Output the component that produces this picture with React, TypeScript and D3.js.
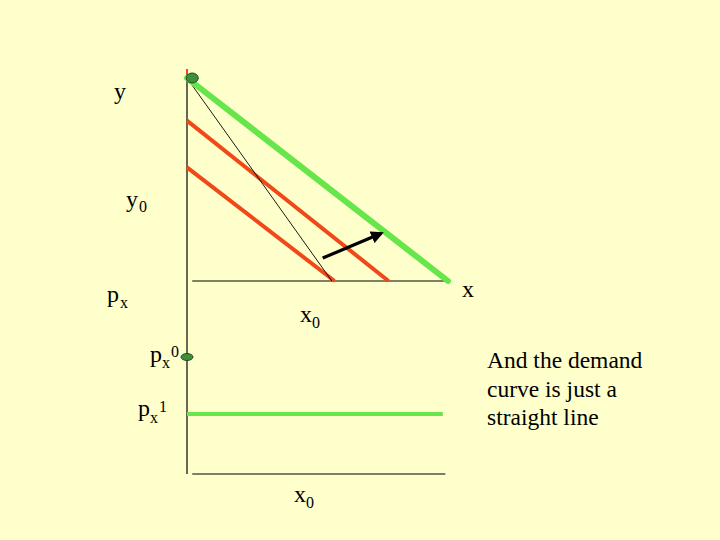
import React from 'react';
import * as d3 from 'd3';

// budget lines as [y intercept, x intercept]
const greenBudget = [10, 10];
const redBudgets = [[7.9, 7.72], [5.6, 5.65]];
const thinLine = [10, 5.55];
const shiftArrow = [[5.2, 1.13], [7.45, 2.35]];
// lower panel: price levels
const priceDot = 9.75;
const priceLine = 5;
const priceLineEnd = 9.8;
const noteLines = ["And the demand", "curve is just a", "straight line"];

const W = 720, H = 540;
const bg = "#FFFFCC";
const green = "#66E64A";
const red = "#F04818";
const serif = "'Liberation Serif', 'Times New Roman', serif";

export default function App() {
    const x = d3.scaleLinear().domain([0, 10]).range([187, 448]);
    const yTop = d3.scaleLinear().domain([0, 10]).range([281, 78]);
    const yBot = d3.scaleLinear().domain([0, 10]).range([474, 354]);
    const line = d3.line<number[]>().x(d => x(d[0])).y(d => yTop(d[1]));

    const budgetPath = (b: number[]) => line([[0, b[0]], [b[1], 0]]) || "";

    return (
        <svg width={W} height={H} style={{ position: "absolute", left: 0, top: 0 }}>
            <defs>
                <marker id="arr" viewBox="0 0 10 10" refX="8" refY="5" markerWidth="4" markerHeight="4" orient="auto">
                    <path d="M0,0 L10,5 L0,10 z" fill="#000" />
                </marker>
            </defs>
            <rect width={W} height={H} fill={bg} />

            {/* axes */}
            <line x1={x(0)} x2={x(0)} y1={70} y2={yBot(0)} stroke="#000" strokeWidth={1.2} />
            <line x1={x(0.2)} x2={x(10)} y1={yTop(0)} y2={yTop(0)} stroke="#000" strokeWidth={1.2} />
            <line x1={x(0.2)} x2={x(9.9)} y1={yBot(0)} y2={yBot(0)} stroke="#000" strokeWidth={1.2} />
            <line x1={x(0)} x2={x(0)} y1={69} y2={74} stroke={red} strokeWidth={2} />

            {/* budget lines */}
            {redBudgets.map((b, i) => (
                <path key={i} d={budgetPath(b)} stroke={red} strokeWidth={4} fill="none" />
            ))}
            <path d={budgetPath(thinLine)} stroke="#000" strokeWidth={0.9} fill="none" />
            <path d={budgetPath(greenBudget)} stroke={green} strokeWidth={6} fill="none" strokeLinecap="round" />
            <ellipse cx={x(0.2)} cy={yTop(10)} rx={6} ry={5} fill="#3E8E3A" stroke="#1F4F1F" strokeWidth={1} />
            <path d={line(shiftArrow) || ""} stroke="#000" strokeWidth={3.2} fill="none" markerEnd="url(#arr)" />

            {/* lower panel */}
            <line x1={x(0)} x2={x(priceLineEnd)} y1={yBot(priceLine)} y2={yBot(priceLine)} stroke={green} strokeWidth={4} />
            <ellipse cx={x(0)} cy={yBot(priceDot)} rx={6} ry={3.5} fill="#3E8E3A" stroke="#1F4F1F" strokeWidth={1} />

            {/* labels */}
            <g fontFamily={serif} fill="#000">
                <text x={114} y={99} fontSize={24}>y</text>
                <text x={126} y={207} fontSize={24}>y</text>
                <text x={139} y={212} fontSize={16}>0</text>

                <text x={107} y={302} fontSize={24}>p</text>
                <text x={120} y={308} fontSize={16}>x</text>

                <text x={300} y={322} fontSize={24}>x</text>
                <text x={312} y={328} fontSize={16}>0</text>

                <text x={462} y={297} fontSize={24}>x</text>

                <text x={150} y={362} fontSize={24}>p</text>
                <text x={162} y={368} fontSize={16}>x</text>
                <text x={171} y={357} fontSize={16}>0</text>

                <text x={138} y={416} fontSize={24}>p</text>
                <text x={150} y={423} fontSize={16}>x</text>
                <text x={159} y={412} fontSize={16}>1</text>

                <text x={294} y={502} fontSize={24}>x</text>
                <text x={306} y={508} fontSize={16}>0</text>

                {noteLines.map((t, i) => (
                    <text key={i} x={487} y={368 + i * 28.5} fontSize={23.5}>{t}</text>
                ))}
            </g>
        </svg>
    );
}
